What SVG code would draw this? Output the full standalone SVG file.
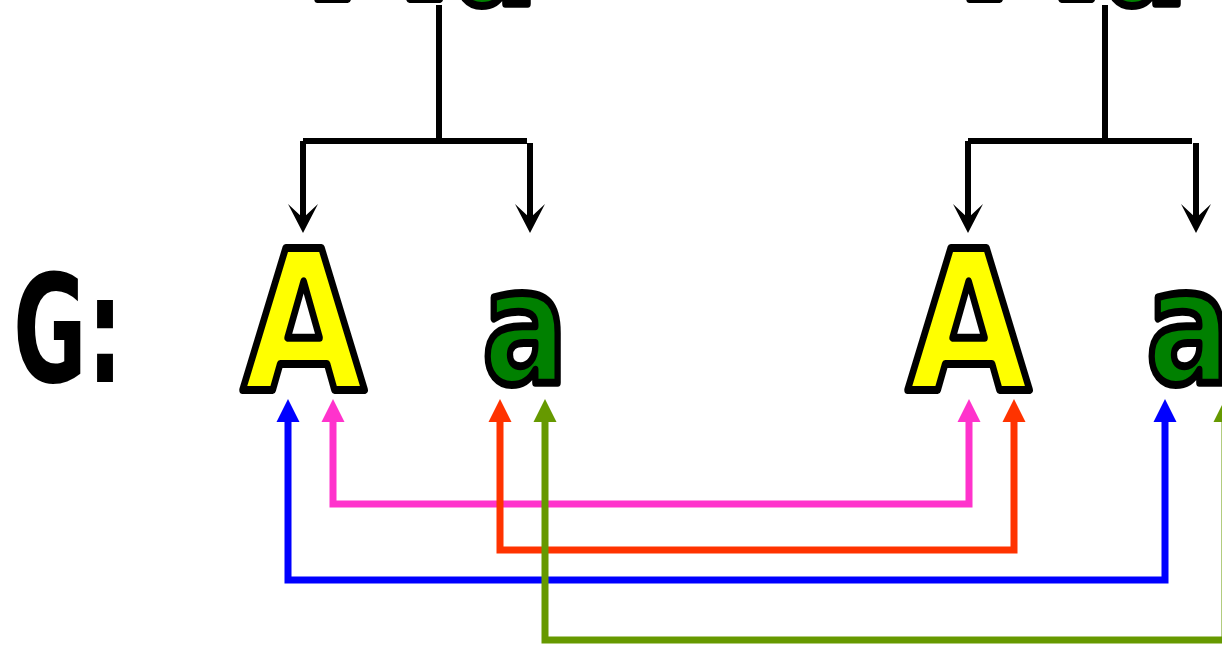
<svg xmlns="http://www.w3.org/2000/svg" width="1222" height="646" viewBox="0 0 1222 646">
  <style>
    .big-A { font-family: "DejaVu Sans", "Liberation Sans", sans-serif; font-weight: bold; font-size: 195px; fill: #ffff00; stroke: #000; stroke-width: 8; stroke-linejoin: round; text-anchor: middle; }
    .small-a { font-family: "DejaVu Sans", "Liberation Sans", sans-serif; font-weight: bold; font-size: 160px; fill: #008000; stroke: #000; stroke-width: 8; stroke-linejoin: round; text-anchor: middle; }
    .label { font-family: "DejaVu Sans", "Liberation Sans", sans-serif; font-weight: bold; font-size: 150px; fill: #000; }
    .tree { fill: none; stroke: #000; stroke-width: 6; }
    .link { fill: none; stroke-width: 7; }
  </style>
  <defs>
    <marker id="arrow-tree" markerUnits="userSpaceOnUse" orient="auto" refX="0" refY="0" markerWidth="40" markerHeight="40" overflow="visible">
      <path d="M15,0 L-14,-15 L0,0 L-14,15 Z" fill="#000"/>
    </marker>
    <marker id="arrow-blue" markerUnits="userSpaceOnUse" orient="auto-start-reverse" refX="0" refY="0" markerWidth="30" markerHeight="30" overflow="visible">
      <path d="M0,-11.5 L23,0 L0,11.5 Z" fill="#0000ff"/>
    </marker>
    <marker id="arrow-pink" markerUnits="userSpaceOnUse" orient="auto-start-reverse" refX="0" refY="0" markerWidth="30" markerHeight="30" overflow="visible">
      <path d="M0,-11.5 L23,0 L0,11.5 Z" fill="#ff33cc"/>
    </marker>
    <marker id="arrow-red" markerUnits="userSpaceOnUse" orient="auto-start-reverse" refX="0" refY="0" markerWidth="30" markerHeight="30" overflow="visible">
      <path d="M0,-11.5 L23,0 L0,11.5 Z" fill="#ff3300"/>
    </marker>
    <marker id="arrow-green" markerUnits="userSpaceOnUse" orient="auto-start-reverse" refX="0" refY="0" markerWidth="30" markerHeight="30" overflow="visible">
      <path d="M0,-11.5 L23,0 L0,11.5 Z" fill="#669900"/>
    </marker>
  </defs>

  <rect width="1222" height="646" fill="#fff"/>

  <g id="parent-left">
    <text class="big-A" transform="translate(378.5,-1) scale(0.82,1)" x="0" y="0">A</text>
    <text class="small-a" transform="translate(495,4) scale(0.79,1)" x="0" y="0">a</text>
  </g>
  <g id="parent-right">
    <text class="big-A" transform="translate(1030.5,-1) scale(0.82,1)" x="0" y="0">A</text>
    <text class="small-a" transform="translate(1145,4) scale(0.79,1)" x="0" y="0">a</text>
  </g>

  <g id="label-G">
    <text class="label" x="13" y="382" textLength="110" lengthAdjust="spacingAndGlyphs">G:</text>
  </g>

  <g id="gamete-A-left">
    <text class="big-A" transform="translate(303.5,390) scale(0.82,1)" x="0" y="0">A</text>
  </g>
  <g id="gamete-a-left">
    <text class="small-a" transform="translate(525,383) scale(0.79,1)" x="0" y="0">a</text>
  </g>
  <g id="gamete-A-right">
    <text class="big-A" transform="translate(968.5,390) scale(0.82,1)" x="0" y="0">A</text>
  </g>
  <g id="gamete-a-right">
    <text class="small-a" transform="translate(1189,383) scale(0.79,1)" x="0" y="0">a</text>
  </g>

  <g id="connectors">
    <path class="tree" d="M439,5 V141"/>
    <path class="tree" d="M303,141 H527"/>
    <path class="tree" d="M303,141 V218" marker-end="url(#arrow-tree)"/>
    <path class="tree" d="M530,143 V218" marker-end="url(#arrow-tree)"/>
    <path class="tree" d="M1105,5 V141"/>
    <path class="tree" d="M968,141 H1192"/>
    <path class="tree" d="M968,141 V218" marker-end="url(#arrow-tree)"/>
    <path class="tree" d="M1196,143 V218" marker-end="url(#arrow-tree)"/>

    <path class="link" stroke="#ff33cc" d="M333,422 V504 H969 V422" marker-start="url(#arrow-pink)" marker-end="url(#arrow-pink)"/>
    <path class="link" stroke="#ff3300" d="M500,422 V550 H1014 V422" marker-start="url(#arrow-red)" marker-end="url(#arrow-red)"/>
    <path class="link" stroke="#0000ff" d="M288,422 V580 H1165 V422" marker-start="url(#arrow-blue)" marker-end="url(#arrow-blue)"/>
    <path class="link" stroke="#669900" d="M545,422 V640 H1225 V422" marker-start="url(#arrow-green)" marker-end="url(#arrow-green)"/>
  </g>
</svg>
